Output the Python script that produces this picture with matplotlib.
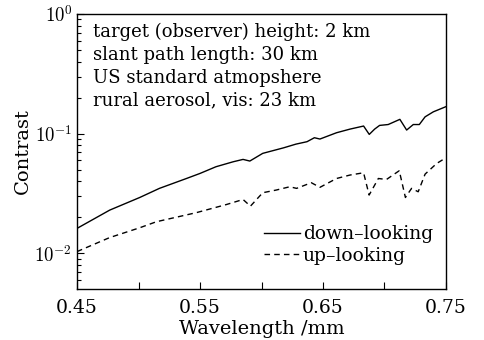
import matplotlib
matplotlib.use("Agg")
import matplotlib.pyplot as plt
from matplotlib.ticker import LogLocator, FixedLocator, NullFormatter

plt.rcParams['font.family'] = 'DejaVu Serif'
plt.rcParams['mathtext.fontset'] = 'cm'

# down-looking (solid)
wl_down = [0.450, 0.4766, 0.501, 0.517, 0.539, 0.550, 0.563, 0.577, 0.585, 0.5905,
           0.601, 0.618, 0.628, 0.637, 0.643, 0.6475, 0.661, 0.672, 0.683, 0.6876,
           0.692, 0.696, 0.703, 0.7125, 0.718, 0.7234, 0.7283, 0.733, 0.7397, 0.750]
c_down = [0.0161, 0.0229, 0.0292, 0.0348, 0.0421, 0.0464, 0.0528, 0.0581, 0.0608, 0.0589,
          0.0683, 0.0760, 0.0816, 0.0855, 0.0923, 0.0900, 0.1016, 0.1090, 0.1156, 0.0984,
          0.1090, 0.1170, 0.1190, 0.1315, 0.1070, 0.1190, 0.1190, 0.1380, 0.1520, 0.1680]

# up-looking (dashed)
wl_up = [0.450, 0.4766, 0.501, 0.5145, 0.547, 0.5715, 0.585, 0.591, 0.601, 0.612,
         0.623, 0.6285, 0.6405, 0.6475, 0.661, 0.672, 0.683, 0.6875, 0.695, 0.7016,
         0.712, 0.717, 0.722, 0.7274, 0.733, 0.7424, 0.750]
c_up = [0.0103, 0.0135, 0.0163, 0.0183, 0.0218, 0.0255, 0.0281, 0.0247, 0.0320, 0.0337,
        0.0359, 0.0348, 0.0388, 0.0355, 0.0421, 0.0450, 0.0470, 0.0306, 0.0421, 0.0413,
        0.0489, 0.0292, 0.0348, 0.0326, 0.0458, 0.0562, 0.0628]

x_ticks = [0.45, 0.50, 0.55, 0.60, 0.65, 0.70, 0.75]
x_labels = ['0.45', '', '0.55', '', '0.65', '', '0.75']

info = ["target (observer) height: 2 km",
        "slant path length: 30 km",
        "US standard atmopshere",
        "rural aerosol, vis: 23 km"]

fig = plt.figure(figsize=(4.84, 3.4), dpi=100)
ax = fig.add_axes([77 / 484, 1 - 289 / 340, 369 / 484, 275 / 340])

ax.plot(wl_down, c_down, color='black', lw=1.0, label='down\u2013looking')
ax.plot(wl_up, c_up, color='black', lw=1.0, ls=(0, (4, 3)), label='up\u2013looking')

ax.set_yscale('log')
ax.set_xlim(0.45, 0.75)
ax.set_ylim(10 ** -2.3, 1)
ax.set_yticks([0.01, 0.1, 1])
ax.set_yticklabels([r'$10^{-2}$', r'$10^{-1}$', r'$10^{0}$'])
ax.yaxis.set_minor_locator(LogLocator(base=10, subs=range(2, 10)))
ax.yaxis.set_minor_formatter(NullFormatter())
ax.xaxis.set_major_locator(FixedLocator(x_ticks))
ax.set_xticklabels(x_labels)

ax.tick_params(axis='both', which='major', direction='in', length=5, width=0.8,
               labelsize=13.5, top=False, right=False)
ax.tick_params(axis='y', which='minor', direction='in', length=3, width=0.8)
ax.tick_params(axis='x', pad=7)
for s in ax.spines.values():
    s.set_linewidth(1.0)

ax.set_xlabel('Wavelength /mm', fontsize=14, labelpad=2)
ax.set_ylabel('Contrast', fontsize=14, labelpad=2)

ax.text(0.043, 0.968, "\n".join(info), transform=ax.transAxes, va='top', ha='left',
        fontsize=13, linespacing=1.34)

ax.legend(loc='lower right', frameon=False, fontsize=13.5, handlelength=1.9,
          handletextpad=0.15, labelspacing=0.2, borderaxespad=0.0,
          bbox_to_anchor=(0.985, 0.06))

fig.savefig('out.png', dpi=100)
